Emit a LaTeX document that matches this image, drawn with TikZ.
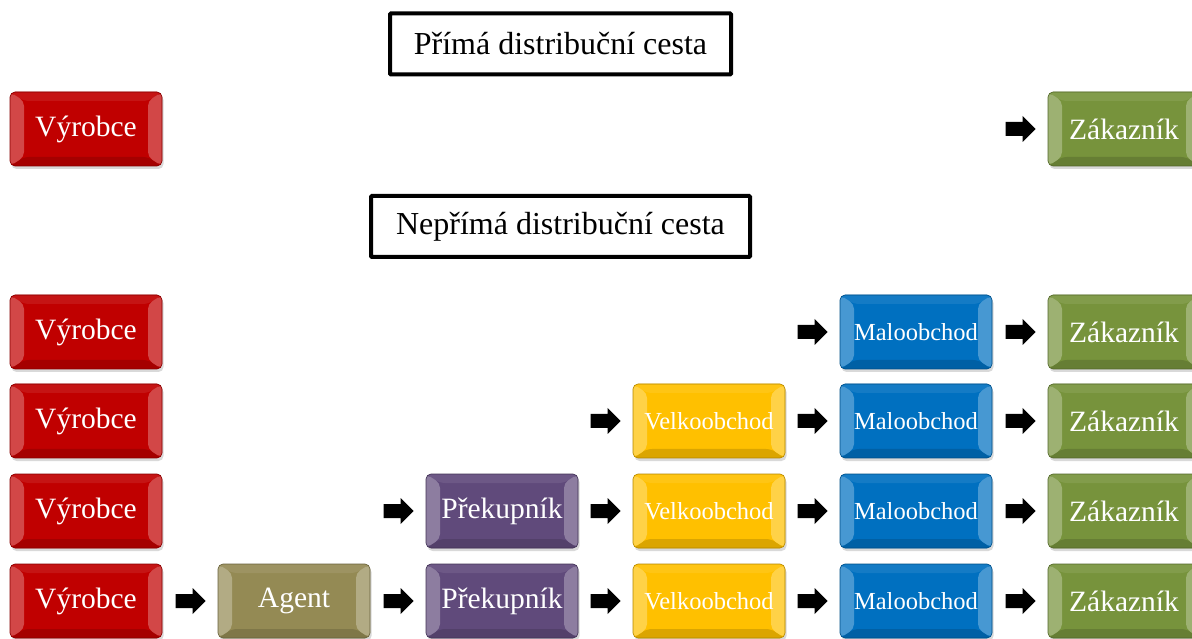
\documentclass[tikz,border=0pt]{standalone}
\usepackage{fontspec}
\setmainfont{Liberation Serif}
\usetikzlibrary{shadows,calc}
\definecolor{cred}{HTML}{C00000}
\definecolor{cgreen}{HTML}{77933C}
\definecolor{colive}{HTML}{948A54}
\definecolor{cpurple}{HTML}{604A7B}
\definecolor{cyellow}{HTML}{FFC000}
\definecolor{cblue}{HTML}{0070C0}
\tikzset{
  btn/.style={rectangle, rounded corners=5pt, minimum width=152pt, minimum height=74pt,
    inner sep=0pt, fill=#1, draw=#1!70!black, line width=0.6pt, text=white,
    font=\fontsize{29.5}{31}\selectfont,
    drop shadow={opacity=0.3, shadow xshift=1.5pt, shadow yshift=-3pt},
    path picture={
      \fill[#1!92!white] (path picture bounding box.north west) -- ([shift={(14pt,-9pt)}]path picture bounding box.north west) -- ([shift={(-14pt,-9pt)}]path picture bounding box.north east) -- (path picture bounding box.north east) -- cycle;
      \fill[#1!86!black] (path picture bounding box.south west) -- ([shift={(14pt,9pt)}]path picture bounding box.south west) -- ([shift={(-14pt,9pt)}]path picture bounding box.south east) -- (path picture bounding box.south east) -- cycle;
      \fill[#1!72!white] (path picture bounding box.north west) -- ([shift={(14pt,-9pt)}]path picture bounding box.north west) -- ([shift={(14pt,9pt)}]path picture bounding box.south west) -- (path picture bounding box.south west) -- cycle;
      \fill[#1!72!white] (path picture bounding box.north east) -- ([shift={(-14pt,-9pt)}]path picture bounding box.north east) -- ([shift={(-14pt,9pt)}]path picture bounding box.south east) -- (path picture bounding box.south east) -- cycle;
    }},
  small/.style={font=\fontsize{24.5}{26}\selectfont},
  titlebox/.style={draw=black, line width=4pt, rounded corners=1pt, fill=white,
    minimum height=61pt, inner sep=0pt, font=\fontsize{32}{34}\selectfont},
}
\newcommand\blockarrow[1]{\fill[black] ([xshift=-12pt]#1.west) -- ++(-13pt,13pt) -- ++(0,-6pt) -- ++(-17pt,0) -- ++(0,-14pt) -- ++(17pt,0) -- ++(0,-6pt) -- cycle;}
\begin{document}
\begin{tikzpicture}[x=1pt,y=1pt]
\useasboundingbox (0,0) rectangle (1192,638);
\clip (0,0) rectangle (1192,638);
% titles
\node[titlebox, minimum width=341pt] (t1) at (560.5,594) {Přímá distribuční cesta};
\node[titlebox, minimum width=379pt] (t2) at (560.5,411.5) {Nepřímá distribuční cesta};
% direct row
\node[btn=cred] (a1) at (86,509) {Výrobce};
\node[btn=cgreen] (a6) at (1124,509) {Zákazník};
\blockarrow{a6}
% row 1
\node[btn=cred] (b1) at (86,306) {Výrobce};
\node[btn=cblue, small] (b5) at (916,306) {Maloobchod};
\node[btn=cgreen] (b6) at (1124,306) {Zákazník};
\blockarrow{b5}\blockarrow{b6}
% row 2
\node[btn=cred] (c1) at (86,217) {Výrobce};
\node[btn=cyellow, small] (c4) at (709,217) {Velkoobchod};
\node[btn=cblue, small] (c5) at (916,217) {Maloobchod};
\node[btn=cgreen] (c6) at (1124,217) {Zákazník};
\blockarrow{c4}\blockarrow{c5}\blockarrow{c6}
% row 3
\node[btn=cred] (d1) at (86,127) {Výrobce};
\node[btn=cpurple] (d3) at (502,127) {Překupník};
\node[btn=cyellow, small] (d4) at (709,127) {Velkoobchod};
\node[btn=cblue, small] (d5) at (916,127) {Maloobchod};
\node[btn=cgreen] (d6) at (1124,127) {Zákazník};
\blockarrow{d3}\blockarrow{d4}\blockarrow{d5}\blockarrow{d6}
% row 4
\node[btn=cred] (e1) at (86,37) {Výrobce};
\node[btn=colive] (e2) at (294,37) {Agent};
\node[btn=cpurple] (e3) at (502,37) {Překupník};
\node[btn=cyellow, small] (e4) at (709,37) {Velkoobchod};
\node[btn=cblue, small] (e5) at (916,37) {Maloobchod};
\node[btn=cgreen] (e6) at (1124,37) {Zákazník};
\blockarrow{e2}\blockarrow{e3}\blockarrow{e4}\blockarrow{e5}\blockarrow{e6}
\end{tikzpicture}
\end{document}
